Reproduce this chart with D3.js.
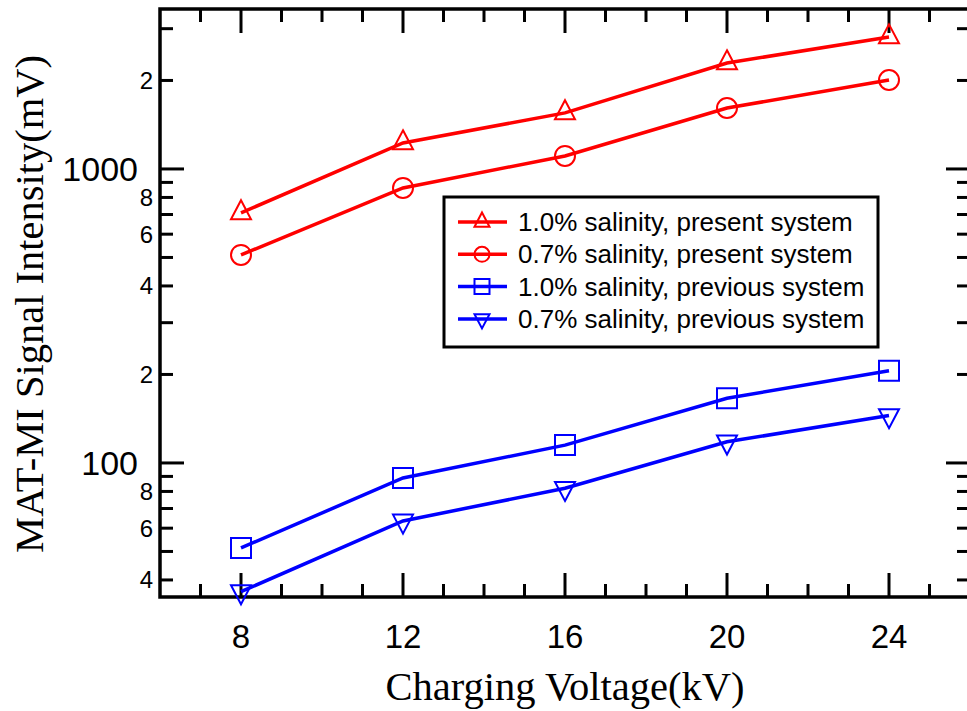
<!DOCTYPE html>
<html>
<head>
<meta charset="utf-8">
<script src="https://cdn.jsdelivr.net/npm/d3@7"></script>
<style>
  body { margin: 0; background: #fff; }
  svg { display: block; }
</style>
</head>
<body>
<div id="chart"></div>
<script>
// Charging voltage (kV) on the x axis
const voltages = [8, 12, 16, 20, 24];

// Signal intensity (mV)
const present10 = [709, 1226, 1551, 2293, 2810];
const present07 = [510, 862, 1107, 1612, 2007];
const previous10 = [51.4, 88.9, 115, 166, 206];
const previous07 = [36.5, 63.5, 82, 118, 145];

const seriesNames = [
    "1.0% salinity, present system",
    "0.7% salinity, present system",
    "1.0% salinity, previous system",
    "0.7% salinity, previous system"
];

const xMajorTicks = [8, 12, 16, 20, 24];
const xMinorTicks = [7, 9, 10, 11, 13, 14, 15, 17, 18, 19, 21, 22, 23, 25];
const yMajorTicks = [100, 1000];
const yMinorTicks = [40, 50, 60, 70, 80, 90, 200, 300, 400, 500, 600, 700, 800, 900, 2000, 3000];

const series = [
    { name: seriesNames[0], values: present10, color: "#ff0000", marker: "up" },
    { name: seriesNames[1], values: present07, color: "#ff0000", marker: "circle" },
    { name: seriesNames[2], values: previous10, color: "#0000ff", marker: "square" },
    { name: seriesNames[3], values: previous07, color: "#0000ff", marker: "down" }
];

const width = 967;
const height = 711;
const margin = { left: 160, top: 9, right: -3, bottom: 114 };
const plotW = width - margin.left - margin.right;
const plotH = height - margin.top - margin.bottom;

const svg = d3.select("#chart")
    .append("svg")
    .attr("width", width)
    .attr("height", height);

const x = d3.scaleLinear().domain([6, 26]).range([0, plotW]);
const y = d3.scaleLog().domain([35, 3500]).range([plotH, 0]);

const g = svg.append("g")
    .attr("transform", `translate(${margin.left},${margin.top})`);

// marker path around (0,0), s = full width
function markerPath(type, s) {
    const h = s / 2;
    if (type === "circle") {
        return `M${h},0A${h},${h} 0 1,1 ${-h},0A${h},${h} 0 1,1 ${h},0Z`;
    }
    if (type === "square") {
        return `M${-h},${-h}H${h}V${h}H${-h}Z`;
    }
    const th = s * 0.95;
    if (type === "up") {
        return `M0,${-th * 2 / 3}L${h},${th / 3}L${-h},${th / 3}Z`;
    }
    return `M0,${th * 2 / 3}L${h},${-th / 3}L${-h},${-th / 3}Z`;
}

const sans = "Liberation Sans, Arial, sans-serif";
const serif = "Liberation Serif, Times New Roman, serif";

// frame
g.append("rect")
    .attr("x", 0)
    .attr("y", 0)
    .attr("width", plotW)
    .attr("height", plotH)
    .attr("fill", "none")
    .attr("stroke", "#000")
    .attr("stroke-width", 3.5);

// inward tick marks on all four sides
const ticks = g.append("g")
    .attr("stroke", "#000")
    .attr("stroke-width", 3);

function xTicks(values, len) {
    ticks.selectAll(null).data(values).enter().append("line")
        .attr("x1", d => x(d)).attr("x2", d => x(d))
        .attr("y1", plotH).attr("y2", plotH - len);
    ticks.selectAll(null).data(values).enter().append("line")
        .attr("x1", d => x(d)).attr("x2", d => x(d))
        .attr("y1", 0).attr("y2", len);
}
function yTicks(values, len) {
    ticks.selectAll(null).data(values).enter().append("line")
        .attr("y1", d => y(d)).attr("y2", d => y(d))
        .attr("x1", 0).attr("x2", len);
    ticks.selectAll(null).data(values).enter().append("line")
        .attr("y1", d => y(d)).attr("y2", d => y(d))
        .attr("x1", plotW).attr("x2", plotW - len);
}
xTicks(xMajorTicks, 24);
xTicks(xMinorTicks, 13);
yTicks(yMajorTicks, 24);
yTicks(yMinorTicks, 13);

// tick labels
g.append("g")
    .selectAll("text")
    .data(xMajorTicks)
    .enter()
    .append("text")
    .attr("x", d => x(d))
    .attr("y", plotH + 51)
    .attr("text-anchor", "middle")
    .attr("font-family", sans)
    .attr("font-size", 33)
    .text(d => d);

g.append("g")
    .selectAll("text")
    .data(yMajorTicks)
    .enter()
    .append("text")
    .attr("x", -22)
    .attr("y", d => y(d))
    .attr("dy", "0.35em")
    .attr("text-anchor", "end")
    .attr("font-family", sans)
    .attr("font-size", 34)
    .text(d3.format("d"));

const leadDigit = d => Math.round(d / Math.pow(10, Math.floor(Math.log10(d))));

g.append("g")
    .selectAll("text")
    .data(yMinorTicks.filter(d => leadDigit(d) % 2 === 0))
    .enter()
    .append("text")
    .attr("x", -7)
    .attr("y", d => y(d))
    .attr("dy", "0.35em")
    .attr("text-anchor", "end")
    .attr("font-family", sans)
    .attr("font-size", 24)
    .text(leadDigit);

// lines and markers
const line = d3.line()
    .x((d, i) => x(voltages[i]))
    .y(d => y(d));

series.forEach(s => {
    g.append("path")
        .datum(s.values)
        .attr("d", line)
        .attr("fill", "none")
        .attr("stroke", s.color)
        .attr("stroke-width", 3.5);

    g.selectAll(null)
        .data(s.values)
        .enter()
        .append("path")
        .attr("transform", (d, i) => `translate(${x(voltages[i])},${y(d)})`)
        .attr("d", markerPath(s.marker, 20))
        .attr("fill", "none")
        .attr("stroke", s.color)
        .attr("stroke-width", 2);
});

// legend
const legend = svg.append("g");
legend.append("rect")
    .attr("x", 444)
    .attr("y", 197)
    .attr("width", 434)
    .attr("height", 150)
    .attr("fill", "#fff")
    .attr("stroke", "#000")
    .attr("stroke-width", 3);

series.forEach((s, i) => {
    const cy = 222 + i * 32.3;
    legend.append("line")
        .attr("x1", 458)
        .attr("x2", 507)
        .attr("y1", cy)
        .attr("y2", cy)
        .attr("stroke", s.color)
        .attr("stroke-width", 3.5);
    legend.append("path")
        .attr("transform", `translate(482,${cy})`)
        .attr("d", markerPath(s.marker, 15))
        .attr("fill", "none")
        .attr("stroke", s.color)
        .attr("stroke-width", 2);
    legend.append("text")
        .attr("x", 518)
        .attr("y", cy + 9)
        .attr("font-family", sans)
        .attr("font-size", 26)
        .attr("fill", "#000")
        .text(s.name);
});

// axis titles
svg.append("text")
    .attr("x", 565)
    .attr("y", 700)
    .attr("text-anchor", "middle")
    .attr("font-family", serif)
    .attr("font-size", 40.5)
    .attr("fill", "#000")
    .text("Charging Voltage(kV)");

svg.append("text")
    .attr("transform", "translate(43,304) rotate(-90)")
    .attr("text-anchor", "middle")
    .attr("font-family", serif)
    .attr("font-size", 40.5)
    .attr("fill", "#000")
    .text("MAT-MI Signal Intensity(mV)");
</script>
</body>
</html>
